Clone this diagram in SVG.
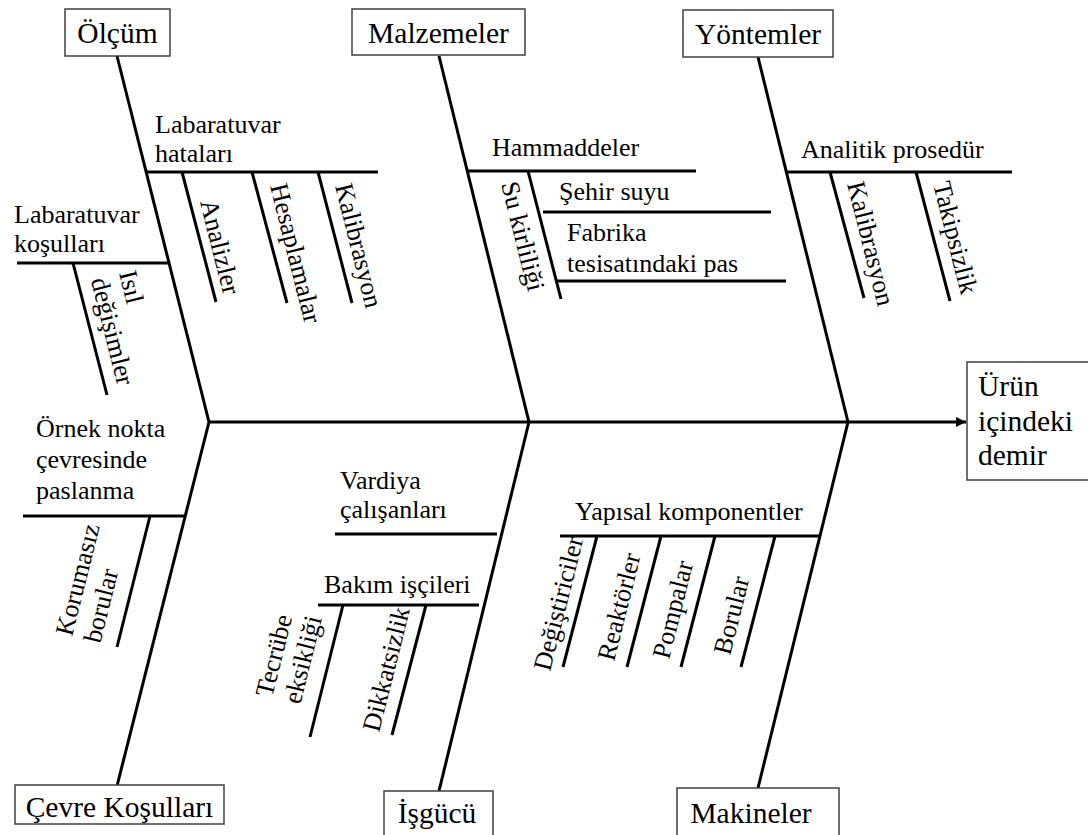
<svg xmlns="http://www.w3.org/2000/svg" width="1088" height="835" viewBox="0 0 1088 835">
  <style>
    .box { fill: #ffffff; stroke: #404040; stroke-width: 1.5; }
    .bone { stroke: #000000; stroke-width: 3; fill: none; }
    .main { font-family: 'Liberation Serif', serif; font-size: 29.5px; fill: #000000; }
    .sub { font-family: 'Liberation Serif', serif; font-size: 26px; fill: #000000; }
  </style>
  <defs>
    <marker id="arrow" viewBox="0 0 10 10" refX="10" refY="5" markerWidth="10" markerHeight="10" markerUnits="userSpaceOnUse" orient="auto">
      <path d="M0,0 L10,5 L0,10 Z" fill="#000"/>
    </marker>
  </defs>

  <rect width="1088" height="835" fill="#ffffff"/>

  <!-- spine, main bones, branches and twigs -->
  <g id="connectors" class="bone">
    <line x1="209" y1="422" x2="966" y2="422" marker-end="url(#arrow)"/>
    <!-- upper main bones -->
    <line x1="117" y1="56" x2="209" y2="422"/>
    <line x1="439" y1="56" x2="529" y2="422"/>
    <line x1="758" y1="57" x2="848" y2="422"/>
    <!-- lower main bones -->
    <line x1="209" y1="422" x2="117" y2="786"/>
    <line x1="529" y1="422" x2="439" y2="791"/>
    <line x1="848" y1="422" x2="758" y2="788"/>

    <!-- Ölçüm branches -->
    <line x1="147" y1="172" x2="378" y2="172"/>
    <line x1="182" y1="172" x2="216" y2="302"/>
    <line x1="252" y1="172" x2="287" y2="303"/>
    <line x1="318" y1="172" x2="352" y2="303"/>
    <line x1="17" y1="263" x2="169" y2="263"/>
    <line x1="73" y1="263" x2="107" y2="395"/>

    <!-- Malzemeler branches -->
    <line x1="468" y1="171" x2="696" y2="171"/>
    <line x1="528" y1="171" x2="561" y2="299"/>
    <line x1="543" y1="212" x2="771" y2="212"/>
    <line x1="557" y1="281" x2="786" y2="281"/>

    <!-- Yöntemler branches -->
    <line x1="785" y1="172" x2="1012" y2="172"/>
    <line x1="830" y1="172" x2="864" y2="298"/>
    <line x1="916" y1="172" x2="950" y2="301"/>

    <!-- Çevre Koşulları branches -->
    <line x1="23" y1="516" x2="185" y2="516"/>
    <line x1="150" y1="516" x2="117" y2="647"/>

    <!-- İşgücü branches -->
    <line x1="335" y1="534" x2="497" y2="534"/>
    <line x1="318" y1="605" x2="479" y2="605"/>
    <line x1="343" y1="605" x2="310" y2="737"/>
    <line x1="426" y1="605" x2="392" y2="735"/>

    <!-- Makineler branches -->
    <line x1="560" y1="536" x2="820" y2="536"/>
    <line x1="597" y1="536" x2="563" y2="667"/>
    <line x1="661" y1="536" x2="627" y2="667"/>
    <line x1="715" y1="536" x2="681" y2="667"/>
    <line x1="775" y1="536" x2="741" y2="667"/>
  </g>

  <!-- main categories -->
  <g id="categories" class="main">
    <g id="olcum">
      <rect class="box" x="65" y="9" width="105" height="47"/>
      <text x="117.5" y="43" text-anchor="middle">Ölçüm</text>
    </g>
    <g id="malzemeler">
      <rect class="box" x="352" y="9" width="173" height="46"/>
      <text x="438.5" y="43" text-anchor="middle">Malzemeler</text>
    </g>
    <g id="yontemler">
      <rect class="box" x="683" y="10" width="150" height="47"/>
      <text x="758" y="44" text-anchor="middle">Yöntemler</text>
    </g>
    <g id="sonuc">
      <rect class="box" x="967" y="362" width="125" height="118"/>
      <text x="978" y="396">Ürün</text>
      <text x="978" y="431">içindeki</text>
      <text x="978" y="465">demir</text>
    </g>
    <g id="cevre">
      <rect class="box" x="15" y="785" width="209" height="39"/>
      <text x="119.5" y="817" text-anchor="middle">Çevre Koşulları</text>
    </g>
    <g id="isgucu">
      <rect class="box" x="384" y="791" width="109" height="50"/>
      <text x="437" y="823" text-anchor="middle">İşgücü</text>
    </g>
    <g id="makineler">
      <rect class="box" x="677" y="788" width="162" height="53"/>
      <text x="751" y="823" text-anchor="middle">Makineler</text>
    </g>
  </g>

  <!-- causes and sub-causes -->
  <g id="causes" class="sub">
    <!-- Ölçüm -->
    <g id="lab-hatalari">
      <text x="155" y="133">Labaratuvar</text>
      <text x="155" y="162">hataları</text>
    </g>
    <g id="analizler"><text transform="translate(200,202) rotate(75.9)">Analizler</text></g>
    <g id="hesaplamalar"><text transform="translate(270,186) rotate(75.9)">Hesaplamalar</text></g>
    <g id="kalibrasyon-1"><text transform="translate(335,186) rotate(75.9)">Kalibrasyon</text></g>
    <g id="lab-kosullari">
      <text x="14" y="223">Labaratuvar</text>
      <text x="14" y="252">koşulları</text>
    </g>
    <g id="isil">
      <text transform="translate(119,273) rotate(75.9)"><tspan x="0" y="0">Isıl</tspan><tspan x="0" y="29">değişimler</tspan></text>
    </g>

    <!-- Malzemeler -->
    <g id="hammaddeler"><text x="492" y="156">Hammaddeler</text></g>
    <g id="su-kirliligi"><text transform="translate(501,184) rotate(75.9)">Su kirliliği</text></g>
    <g id="sehir-suyu"><text x="559" y="200">Şehir suyu</text></g>
    <g id="fabrika">
      <text x="567" y="241">Fabrika</text>
      <text x="567" y="272">tesisatındaki pas</text>
    </g>

    <!-- Yöntemler -->
    <g id="analitik"><text x="801" y="158">Analitik prosedür</text></g>
    <g id="kalibrasyon-2"><text transform="translate(847,184) rotate(75.9)">Kalibrasyon</text></g>
    <g id="takipsizlik"><text transform="translate(933,184) rotate(75.9)">Takipsizlik</text></g>

    <!-- Çevre Koşulları -->
    <g id="paslanma">
      <text x="36" y="437">Örnek nokta</text>
      <text x="36" y="468">çevresinde</text>
      <text x="36" y="499">paslanma</text>
    </g>
    <g id="korumasiz">
      <text transform="translate(72,637) rotate(-75.9)"><tspan x="0" y="0">Korumasız</tspan><tspan x="0" y="29">borular</tspan></text>
    </g>

    <!-- İşgücü -->
    <g id="vardiya">
      <text x="340" y="489">Vardiya</text>
      <text x="340" y="518">çalışanları</text>
    </g>
    <g id="bakim"><text x="324" y="593">Bakım işçileri</text></g>
    <g id="tecrube">
      <text transform="translate(272,698) rotate(-75.9)"><tspan x="0" y="0">Tecrübe</tspan><tspan x="0" y="29">eksikliği</tspan></text>
    </g>
    <g id="dikkatsizlik"><text transform="translate(379,733) rotate(-75.9)">Dikkatsizlik</text></g>

    <!-- Makineler -->
    <g id="yapisal"><text x="575" y="520">Yapısal komponentler</text></g>
    <g id="degistiriciler"><text transform="translate(550,672) rotate(-75.9)">Değiştiriciler</text></g>
    <g id="reaktorler"><text transform="translate(614,662) rotate(-75.9)">Reaktörler</text></g>
    <g id="pompalar"><text transform="translate(669,660) rotate(-75.9)">Pompalar</text></g>
    <g id="borular"><text transform="translate(730,656) rotate(-75.9)">Borular</text></g>
  </g>
</svg>
